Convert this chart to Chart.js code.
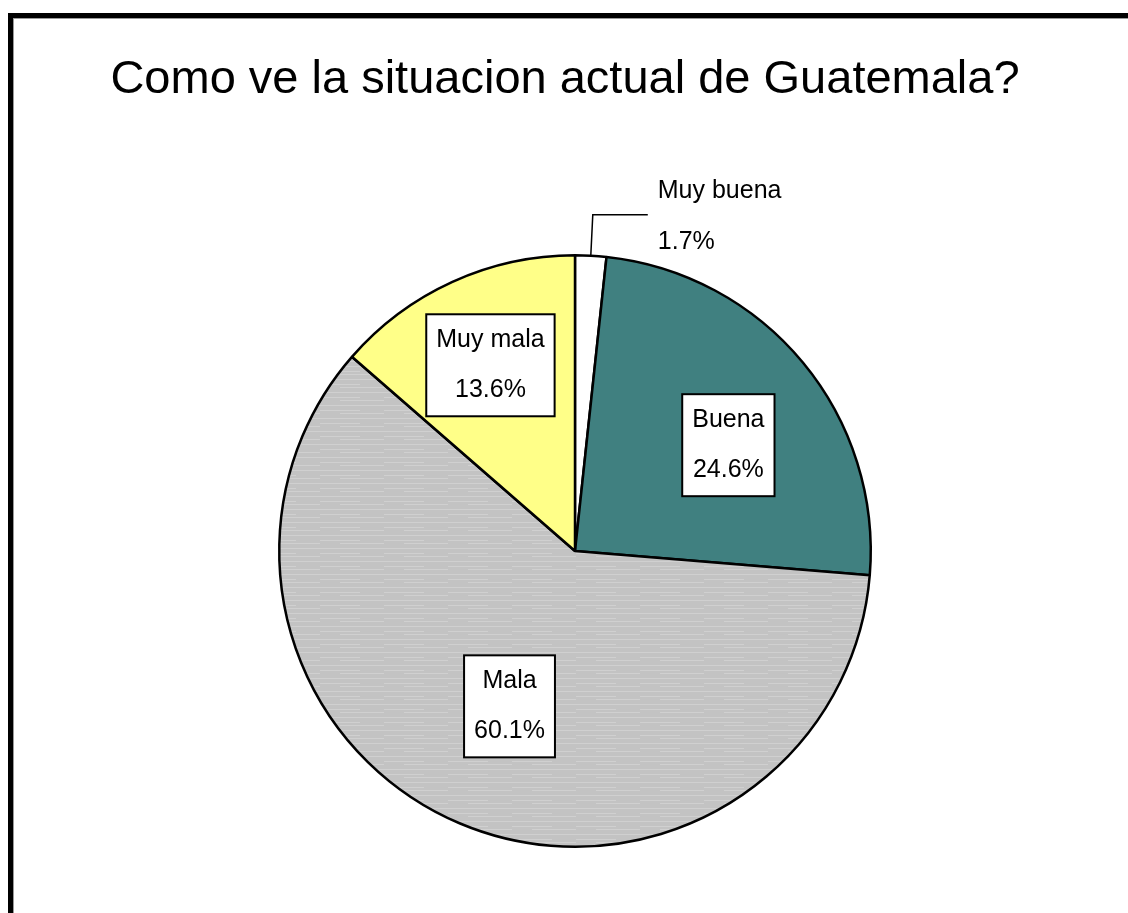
<!DOCTYPE html>
<html>
<head>
<meta charset="utf-8">
<title>Como ve la situacion actual de Guatemala?</title>
<script src="https://cdn.jsdelivr.net/npm/chart.js@4"></script>
<style>
    body { margin: 0; background: #fff; }
    #wrap { position: relative; width: 1128px; height: 913px; overflow: hidden; }
    #frame {
        position: absolute; left: 8px; top: 13px; width: 1200px; height: 1000px;
        border-left: 5px solid #000; border-top: 5px solid #000;
        box-shadow: inset 1px 1px 0 #999;
        pointer-events: none;
    }
</style>
</head>
<body>
<div id="wrap">
    <canvas id="chart" width="1128" height="913"></canvas>
    <div id="frame"></div>
</div>
<script>
'use strict'

const chartTitle = "Como ve la situacion actual de Guatemala?";
const categories = ["Muy buena", "Buena", "Mala", "Muy mala"];
const percents = [1.7, 24.6, 60.1, 13.6];

document.addEventListener("DOMContentLoaded", () => {
    const canvas = document.getElementById("chart");

    // grey streaky fill for the big slice
    function stripes() {
        const c = document.createElement("canvas");
        c.width = 64;
        c.height = 13;
        const g = c.getContext("2d");
        g.fillStyle = "#c3c3c3";
        g.fillRect(0, 0, 64, 13);
        g.fillStyle = "#d0d0d0";
        g.fillRect(0, 2, 64, 1);
        g.fillRect(0, 7, 40, 1);
        g.fillRect(20, 10, 44, 1);
        return g.createPattern(c, "repeat");
    }

    const colors = ["#ffffff", "#408080", stripes(), "#ffff88"];

    // where each label sits: fraction of radius and a small turn in degrees
    const labelSpots = [
        null,
        {r: 0.63, turn: 5},
        {r: 0.57, turn: 0},
        {r: 0.69, turn: 0}
    ];

    const titlePlugin = {
        id: "titleText",
        afterDraw(chart) {
            const ctx = chart.ctx;
            ctx.save();
            ctx.font = "47px 'Liberation Sans', Arial, sans-serif";
            ctx.fillStyle = "#000";
            ctx.textAlign = "center";
            ctx.textBaseline = "alphabetic";
            ctx.fillText(chartTitle, 565, 93);
            ctx.restore();
        }
    };

    const labelPlugin = {
        id: "sliceLabels",
        afterDatasetsDraw(chart) {
            const ctx = chart.ctx;
            const arcs = chart.getDatasetMeta(0).data;
            ctx.save();
            ctx.font = "25px 'Liberation Sans', Arial, sans-serif";
            ctx.textBaseline = "middle";
            arcs.forEach((arc, i) => {
                const lines = [categories[i], percents[i].toFixed(1) + "%"];
                const mid = (arc.startAngle + arc.endAngle) / 2;
                const spot = labelSpots[i];

                if (!spot) {
                    // small slice: label outside with a leader line
                    const ex = arc.x + Math.cos(mid) * arc.outerRadius;
                    const ey = arc.y + Math.sin(mid) * arc.outerRadius;
                    const ty = ey - 41;
                    ctx.strokeStyle = "#000";
                    ctx.lineWidth = 1.5;
                    ctx.beginPath();
                    ctx.moveTo(ex, ey);
                    ctx.lineTo(ex + 2, ty);
                    ctx.lineTo(ex + 57, ty);
                    ctx.stroke();
                    ctx.fillStyle = "#000";
                    ctx.textAlign = "left";
                    ctx.fillText(lines[0], ex + 67, ty - 24);
                    ctx.fillText(lines[1], ex + 67, ty + 27);
                    return;
                }

                const a = mid + spot.turn * Math.PI / 180;
                const cx = arc.x + Math.cos(a) * arc.outerRadius * spot.r;
                const cy = arc.y + Math.sin(a) * arc.outerRadius * spot.r;
                const w = Math.max(...lines.map(t => ctx.measureText(t).width)) + 20;
                const h = 102;
                ctx.fillStyle = "#fff";
                ctx.fillRect(cx - w / 2, cy - h / 2, w, h);
                ctx.strokeStyle = "#000";
                ctx.lineWidth = 2;
                ctx.strokeRect(cx - w / 2, cy - h / 2, w, h);
                ctx.fillStyle = "#000";
                ctx.textAlign = "center";
                ctx.fillText(lines[0], cx, cy - 25);
                ctx.fillText(lines[1], cx, cy + 25);
            });
            ctx.restore();
        }
    };

    new Chart(canvas, {
        type: "pie",
        data: {
            labels: categories,
            datasets: [{
                data: percents,
                backgroundColor: colors,
                borderColor: "#000",
                borderWidth: 2.5
            }]
        },
        options: {
            responsive: false,
            animation: false,
            layout: {
                padding: {left: 278, right: 256, top: 254, bottom: 65}
            },
            plugins: {
                legend: {display: false},
                tooltip: {enabled: false},
                title: {display: false}
            }
        },
        plugins: [titlePlugin, labelPlugin]
    });
});
</script>
</body>
</html>
